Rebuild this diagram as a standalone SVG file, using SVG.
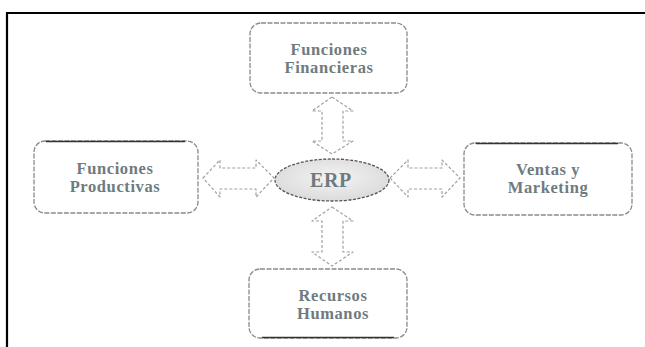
<svg xmlns="http://www.w3.org/2000/svg" width="645" height="347" viewBox="0 0 645 347">
  <defs>
    <radialGradient id="erpFill" cx="50%" cy="45%" r="60%">
      <stop offset="0" stop-color="#f4f4f4"/>
      <stop offset="1" stop-color="#d9d9d9"/>
    </radialGradient>
  </defs>
  <style>
    .box { fill: #ffffff; stroke: #8a8a8a; stroke-width: 1.3; stroke-dasharray: 5 1.5; }
    .edge { stroke: #333; stroke-width: 1.4; }
    .label { font-family: "Liberation Serif", "Times New Roman", serif; font-weight: bold; font-size: 16.5px; fill: #6f7b7e; text-anchor: middle; letter-spacing: 0.6px; }
    .arrow { fill: #ffffff; stroke: #a0a0a0; stroke-width: 1.2; stroke-dasharray: 3 2; stroke-linejoin: round; }
    .frame { stroke: #000; stroke-width: 2.2; fill: none; }
  </style>

  <rect width="645" height="347" fill="#ffffff"/>

  <!-- page frame -->
  <path class="frame" d="M7,347 V13 H645"/>

  <!-- double block arrows -->
  <g id="connectors">
    <!-- ERP <-> Funciones Financieras -->
    <path class="arrow" d="M332,97 L353,111 L343,111 L343,141 L353,141 L332,154 L312,141 L322,141 L322,111 L312,111 Z"/>
    <!-- ERP <-> Recursos Humanos -->
    <path class="arrow" d="M332,207 L353,221 L343,221 L343,252 L353,252 L332,266 L312,252 L322,252 L322,221 L312,221 Z"/>
    <!-- Funciones Productivas <-> ERP -->
    <path class="arrow" d="M203,178 L220,160 L220,168 L256,168 L256,160 L274,178 L256,197 L256,189 L220,189 L220,197 Z"/>
    <!-- ERP <-> Ventas y Marketing -->
    <path class="arrow" d="M390,178 L408,160 L408,168 L442,168 L442,160 L460,178 L442,197 L442,189 L408,189 L408,197 Z"/>
  </g>

  <g id="erp">
    <ellipse cx="332" cy="180" rx="57" ry="21" fill="url(#erpFill)" stroke="#555" stroke-width="1.3" stroke-dasharray="3 1.5"/>
    <text x="331" y="187" class="label" style="font-size:20px">ERP</text>
  </g>

  <g id="financieras">
    <rect class="box" x="250" y="23" width="157" height="70" rx="11"/>
    <text x="329" y="55" class="label">Funciones</text>
    <text x="329" y="73" class="label">Financieras</text>
  </g>

  <g id="productivas">
    <rect class="box" x="34" y="141" width="164" height="72" rx="11"/>
    <line class="edge" x1="46" y1="141.5" x2="185" y2="141.5"/>
    <text x="115" y="174" class="label">Funciones</text>
    <text x="115" y="192" class="label">Productivas</text>
  </g>

  <g id="ventas">
    <rect class="box" x="464" y="143" width="168" height="72" rx="11"/>
    <line class="edge" x1="476" y1="143.5" x2="618" y2="143.5"/>
    <text x="548" y="175" class="label">Ventas y</text>
    <text x="548" y="193" class="label">Marketing</text>
  </g>

  <g id="recursos">
    <rect class="box" x="249" y="269" width="158" height="69" rx="11"/>
    <line class="edge" x1="262" y1="337.5" x2="394" y2="337.5"/>
    <text x="333" y="301" class="label">Recursos</text>
    <text x="333" y="319" class="label">Humanos</text>
  </g>
</svg>
